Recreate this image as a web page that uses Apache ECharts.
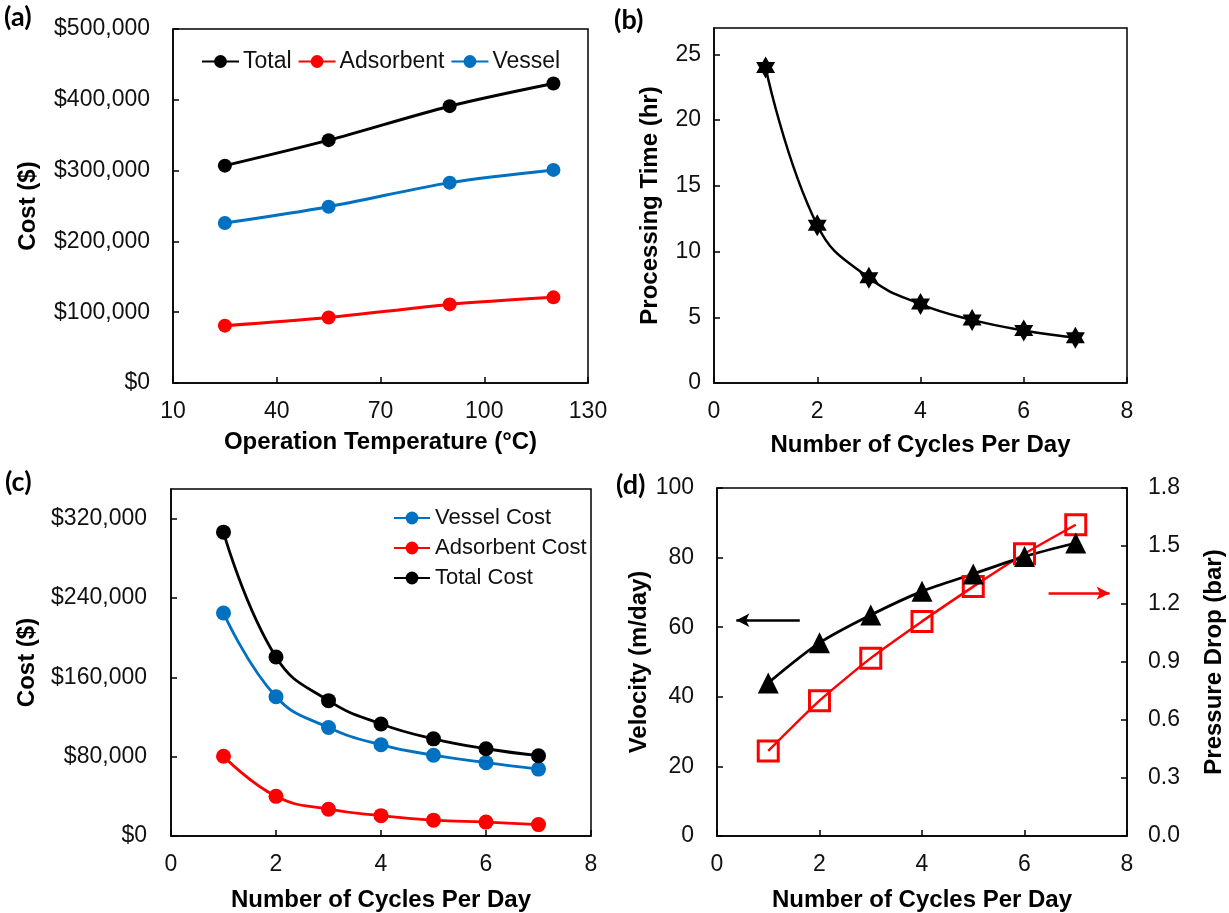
<!DOCTYPE html>
<html>
<head>
<meta charset="utf-8">
<script src="https://cdn.jsdelivr.net/npm/echarts@6/dist/echarts.min.js"></script>
<style>
html,body{margin:0;padding:0;background:#fff;}
#chart{width:1229px;height:913px;}
</style>
</head>
<body>
<div id="chart"></div>
<script>
// ---- Panel (a) data ----
const aTemp = [25, 55, 90, 120];
const aTotal = [307000, 343000, 391000, 423000];
const aAdsorbent = [81000, 92500, 111000, 121000];
const aVessel = [226000, 249000, 283000, 301000];
const aXTicks = [10, 40, 70, 100, 130];

// ---- Shared x for (b), (c), (d) ----
const cycles = [1, 2, 3, 4, 5, 6, 7];

// ---- Panel (b) ----
const bTime = [24, 12, 8, 6, 4.8, 4, 3.45];

// ---- Panel (c) ----
const cVessel = [225000, 140500, 109500, 92000, 81500, 74000, 67500];
const cAdsorbent = [80500, 40000, 27000, 20500, 16000, 14000, 11500];
const cTotal = [306500, 180500, 136500, 113000, 98000, 88000, 81000];

// ---- Panel (d) ----
const dVelocity = [44, 55.5, 63.5, 70.3, 75.3, 80.3, 84.2];
const dPressure = [0.44, 0.70, 0.92, 1.11, 1.29, 1.46, 1.61];
// annotation arrows [x, y] in data units
const dArrowVel = [[1.615, 62], [0.377, 62]];
const dArrowPres = [[6.47, 1.256], [7.66, 1.256]];

const BLACK = '#000000', RED = '#FF0000', BLUE = '#0070C0';
const FONT = 'Liberation Sans, Arial, sans-serif';
const TICK = {fontFamily: FONT, fontSize: 23, color: '#111'};
const TITLE = {fontFamily: FONT, fontSize: 24, fontWeight: 'bold', color: '#000'};

function pairs(xs, ys) { return xs.map((x, i) => [x, ys[i]]); }
function money(v) { return '$' + Math.round(v).toLocaleString('en-US'); }

function xAxisBase(gi, name, extra) {
  return Object.assign({
    type: 'value', gridIndex: gi, name: name, nameLocation: 'middle', nameGap: 48,
    nameTextStyle: TITLE,
    axisLine: {show: true, onZero: false, lineStyle: {color: '#000', width: 1.5}},
    axisTick: {show: true, inside: true, length: 6, lineStyle: {color: '#000', width: 1.5}},
    axisLabel: Object.assign({margin: 16}, TICK),
    splitLine: {show: false}
  }, extra);
}
function yAxisBase(gi, name, extra) {
  return Object.assign({
    type: 'value', gridIndex: gi, name: name, nameLocation: 'middle', nameRotate: 90,
    nameTextStyle: TITLE,
    axisLine: {show: true, onZero: false, lineStyle: {color: '#000', width: 1.5}},
    axisTick: {show: true, inside: true, length: 6, lineStyle: {color: '#000', width: 1.5}},
    axisLabel: Object.assign({margin: 22}, TICK),
    splitLine: {show: false}
  }, extra);
}
function lineSeries(name, xi, yi, data, color, opts) {
  return Object.assign({
    type: 'line', name: name, xAxisIndex: xi, yAxisIndex: yi, data: data,
    symbol: 'circle', symbolSize: 14,
    itemStyle: {color: color},
    lineStyle: {color: color, width: 3},
    smooth: 0.3
  }, opts || {});
}

const chart = echarts.init(document.getElementById('chart'), null, {renderer: 'canvas'});

const gridStyle = {show: true, borderColor: '#000', borderWidth: 1.5, backgroundColor: 'transparent'};

const option = {
  animation: false,
  backgroundColor: '#ffffff',
  grid: [
    Object.assign({left: 173, top: 29, width: 415, height: 354}, gridStyle),
    Object.assign({left: 714, top: 28, width: 413, height: 355}, gridStyle),
    Object.assign({left: 171, top: 489, width: 420, height: 349}, gridStyle),
    Object.assign({left: 717, top: 488, width: 410, height: 349}, gridStyle)
  ],
  legend: [
    {
      data: ['Total', 'Adsorbent', 'Vessel'],
      left: 196, top: 45, orient: 'horizontal',
      itemWidth: 37, itemHeight: 16, itemGap: 6,
      textStyle: {fontFamily: FONT, fontSize: 23, color: '#111', padding: [0, 0, 0, -1]}
    },
    {
      data: ['Vessel Cost', 'Adsorbent Cost', 'Total Cost'],
      left: 388, top: 502, orient: 'vertical',
      itemWidth: 36, itemHeight: 16, itemGap: 8,
      textStyle: {fontFamily: FONT, fontSize: 22, color: '#111'}
    }
  ],
  xAxis: [
    xAxisBase(0, 'Operation Temperature (°C)', {
      min: 10, max: 130, nameGap: 47,
      axisLabel: Object.assign({margin: 17, customValues: aXTicks}, TICK),
      axisTick: {show: true, inside: true, length: 6, customValues: aXTicks, lineStyle: {color: '#000', width: 1.5}}
    }),
    xAxisBase(1, 'Number of Cycles Per Day', {min: 0, max: 8, interval: 2, nameGap: 50,
      axisLabel: Object.assign({margin: 17}, TICK)}),
    xAxisBase(2, 'Number of Cycles Per Day', {min: 0, max: 8, interval: 2, nameGap: 52,
      axisLabel: Object.assign({margin: 17}, TICK)}),
    xAxisBase(3, 'Number of Cycles Per Day', {min: 0, max: 8, interval: 2, nameGap: 52,
      axisLabel: Object.assign({margin: 17}, TICK)})
  ],
  yAxis: [
    yAxisBase(0, 'Cost ($)', {min: 0, max: 500000, interval: 100000, nameGap: 133,
      axisLabel: Object.assign({margin: 23, formatter: money}, TICK)}),
    yAxisBase(1, 'Processing Time (hr)', {min: 0, max: 27, interval: 5, nameGap: 52,
      axisLabel: Object.assign({margin: 13, showMaxLabel: false}, TICK)}),
    yAxisBase(2, 'Cost ($)', {min: 0, max: 350000, interval: 80000, nameGap: 132,
      axisLabel: Object.assign({margin: 24, formatter: money, showMaxLabel: false}, TICK)}),
    yAxisBase(3, 'Velocity (m/day)', {min: 0, max: 100, interval: 20, nameGap: 62,
      axisLabel: Object.assign({margin: 23}, TICK)}),
    yAxisBase(3, 'Pressure Drop (bar)', {min: 0, max: 1.8, interval: 0.3, position: 'right', nameGap: 75,
      axisLabel: Object.assign({margin: 21, formatter: v => v.toFixed(1)}, TICK)})
  ],
  series: [
    // (a)
    lineSeries('Total', 0, 0, pairs(aTemp, aTotal), BLACK),
    lineSeries('Adsorbent', 0, 0, pairs(aTemp, aAdsorbent), RED),
    lineSeries('Vessel', 0, 0, pairs(aTemp, aVessel), BLUE),
    // (b)
    lineSeries('Processing Time', 1, 1, pairs(cycles, bTime), BLACK, {
      symbol: 'path://M10,0 L12.887,5 L18.66,5 L15.774,10 L18.66,15 L12.887,15 L10,20 L7.113,15 L1.34,15 L4.226,10 L1.34,5 L7.113,5 Z',
      symbolSize: [19, 22], smooth: 0.45, lineStyle: {color: BLACK, width: 2.5}
    }),
    // (c)
    lineSeries('Vessel Cost', 2, 2, pairs(cycles, cVessel), BLUE, {symbolSize: 15, smooth: 0.45, lineStyle: {color: BLUE, width: 2.8}}),
    lineSeries('Adsorbent Cost', 2, 2, pairs(cycles, cAdsorbent), RED, {symbolSize: 15, smooth: 0.45, lineStyle: {color: RED, width: 2.8}}),
    lineSeries('Total Cost', 2, 2, pairs(cycles, cTotal), BLACK, {symbolSize: 15, smooth: 0.45, lineStyle: {color: BLACK, width: 2.8}}),
    // (d) pressure drop (right axis)
    {
      type: 'line', name: 'Pressure Drop', xAxisIndex: 3, yAxisIndex: 4,
      data: pairs(cycles, dPressure),
      symbol: 'rect', symbolSize: 20, smooth: 0.2,
      itemStyle: {color: 'rgba(0,0,0,0)', borderColor: RED, borderWidth: 3},
      lineStyle: {color: RED, width: 2.5},
      markLine: {
        silent: true, animation: false, symbol: ['none', 'arrow'], symbolSize: [10, 13],
        label: {show: false},
        lineStyle: {color: RED, width: 2.5, type: 'solid'},
        data: [[{coord: dArrowPres[0]}, {coord: dArrowPres[1]}]]
      }
    },
    // (d) velocity (left axis)
    {
      type: 'line', name: 'Velocity', xAxisIndex: 3, yAxisIndex: 3,
      data: pairs(cycles, dVelocity),
      symbol: 'triangle', symbolSize: 21, smooth: 0.3,
      itemStyle: {color: BLACK},
      lineStyle: {color: BLACK, width: 2.8},
      markLine: {
        silent: true, animation: false, symbol: ['none', 'arrow'], symbolSize: [10, 13],
        label: {show: false},
        lineStyle: {color: BLACK, width: 2.5, type: 'solid'},
        data: [[{coord: dArrowVel[0]}, {coord: dArrowVel[1]}]]
      }
    }
  ],
  graphic: [
    {type: 'text', left: 4, top: 4, style: {text: '(a)', font: 'bold 27px Lato, sans-serif', fill: '#000'}},
    {type: 'text', left: 614, top: 7, style: {text: '(b)', font: 'bold 27px Lato, sans-serif', fill: '#000'}},
    {type: 'text', left: 5, top: 469, style: {text: '(c)', font: 'bold 27px Lato, sans-serif', fill: '#000'}},
    {type: 'text', left: 616, top: 472, style: {text: '(d)', font: 'bold 27px Lato, sans-serif', fill: '#000'}}
  ]
};
chart.setOption(option);
</script>
</body>
</html>
